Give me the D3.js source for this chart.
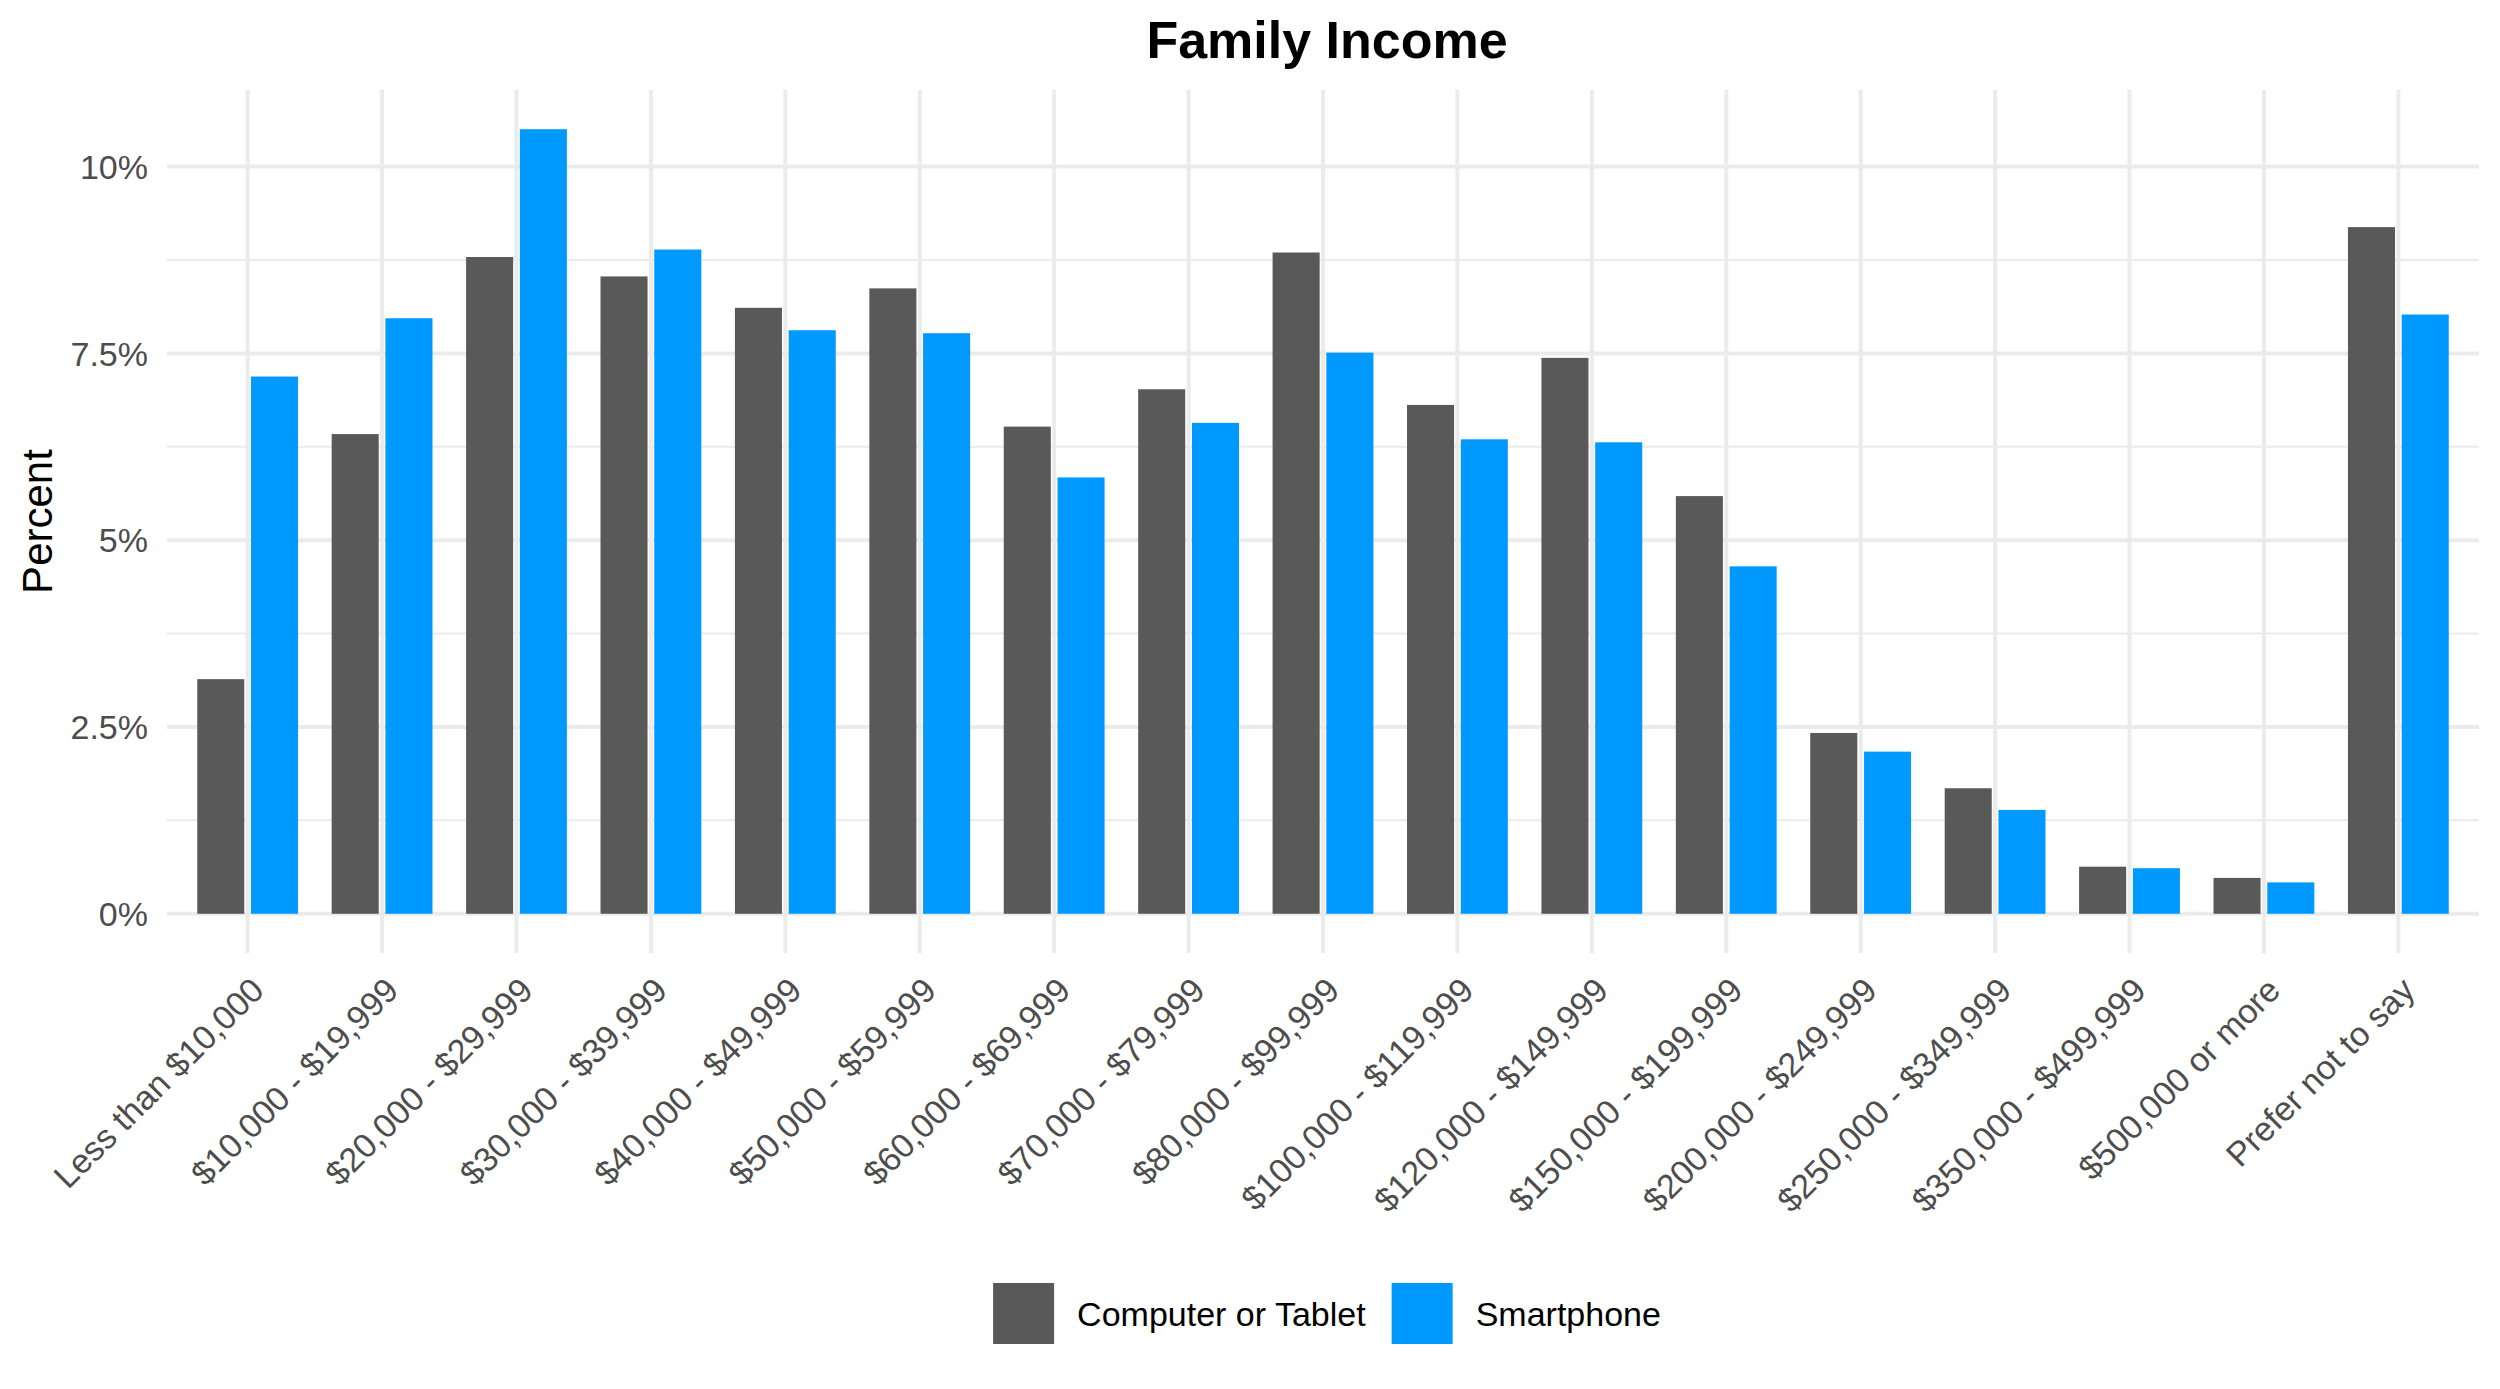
<!DOCTYPE html>
<html>
<head>
<meta charset="utf-8">
<script src="https://cdn.jsdelivr.net/npm/d3@7.9.0/dist/d3.min.js"></script>
<style>
  body { margin: 0; background: #fff; }
  svg { display: block; font-family: "Liberation Sans", Arial, Helvetica, sans-serif; }
</style>
</head>
<body>
<svg id="chart" width="2500" height="1389"></svg>
<script>
// data (percent)
const categories = [
  'Less than $10,000', '$10,000 - $19,999', '$20,000 - $29,999', '$30,000 - $39,999',
  '$40,000 - $49,999', '$50,000 - $59,999', '$60,000 - $69,999', '$70,000 - $79,999',
  '$80,000 - $99,999', '$100,000 - $119,999', '$120,000 - $149,999', '$150,000 - $199,999',
  '$200,000 - $249,999', '$250,000 - $349,999', '$350,000 - $499,999', '$500,000 or more',
  'Prefer not to say'
];
const seriesNames = ['Computer or Tablet', 'Smartphone'];
const computerValues = [3.14, 6.42, 8.79, 8.53, 8.11, 8.37, 6.52, 7.02, 8.85, 6.81, 7.44, 5.59, 2.42, 1.68, 0.63, 0.48, 9.19];
const smartphoneValues = [7.19, 7.97, 10.5, 8.89, 7.81, 7.77, 5.84, 6.57, 7.51, 6.35, 6.31, 4.65, 2.17, 1.39, 0.61, 0.42, 8.02];
const yTicks = [0, 2.5, 5, 7.5, 10];
const yMinor = [1.25, 3.75, 6.25, 8.75];

const colors = d3.scaleOrdinal().domain(seriesNames).range(['#595959', '#0099FF']);

const svg = d3.select('#chart');
const panel = { left: 167, right: 2479, top: 90, bottom: 953 };
const fontSize = 34;

const x = d3.scaleBand()
  .domain(categories)
  .range([panel.left, panel.right])
  .paddingInner(0)
  .paddingOuter(0.1);

const xInner = d3.scaleBand()
  .domain(seriesNames)
  .range([x.step() * 0.125, x.step() * 0.875])
  .paddingInner(0.125);

const yMax = d3.max([...computerValues, ...smartphoneValues]);
const y = d3.scaleLinear()
  .domain([-yMax * 0.05, yMax * 1.05])
  .range([panel.bottom, panel.top]);

// grid
const grid = svg.append('g');
grid.selectAll('.minor').data(yMinor).join('line')
  .attr('x1', panel.left).attr('x2', panel.right)
  .attr('y1', d => y(d)).attr('y2', d => y(d))
  .attr('stroke', '#EBEBEB').attr('stroke-width', 2);
grid.selectAll('.major').data(yTicks).join('line')
  .attr('x1', panel.left).attr('x2', panel.right)
  .attr('y1', d => y(d)).attr('y2', d => y(d))
  .attr('stroke', '#EBEBEB').attr('stroke-width', 4);
grid.selectAll('.vert').data(categories).join('line')
  .attr('x1', d => x(d) + x.step() / 2).attr('x2', d => x(d) + x.step() / 2)
  .attr('y1', panel.top).attr('y2', panel.bottom)
  .attr('stroke', '#EBEBEB').attr('stroke-width', 4);

// bars
const rows = categories.map((c, i) => ({
  category: c,
  values: [
    { series: seriesNames[0], value: computerValues[i] },
    { series: seriesNames[1], value: smartphoneValues[i] }
  ]
}));

svg.append('g').selectAll('g').data(rows).join('g')
  .attr('transform', d => `translate(${x(d.category)},0)`)
  .selectAll('rect').data(d => d.values).join('rect')
  .attr('x', d => xInner(d.series))
  .attr('width', xInner.bandwidth())
  .attr('y', d => y(d.value))
  .attr('height', d => y(0) - y(d.value))
  .attr('fill', d => colors(d.series));

// y axis labels
svg.append('g').selectAll('text').data(yTicks).join('text')
  .attr('x', 148)
  .attr('y', d => y(d))
  .attr('dy', '0.36em')
  .attr('text-anchor', 'end')
  .attr('font-size', fontSize)
  .attr('fill', '#4D4D4D')
  .text(d => d + '%');

// x axis labels
svg.append('g').selectAll('text').data(categories).join('text')
  .attr('transform', d => `translate(${x(d) + x.step() / 2 + 1},975) rotate(-45)`)
  .attr('dy', '0.72em')
  .attr('text-anchor', 'end')
  .attr('font-size', fontSize)
  .attr('fill', '#4D4D4D')
  .text(d => d);

// axis title
svg.append('text')
  .attr('transform', `translate(52,${(panel.top + panel.bottom) / 2}) rotate(-90)`)
  .attr('text-anchor', 'middle')
  .attr('font-size', 42)
  .attr('fill', '#000')
  .text('Percent');

// title
const centerX = (panel.left + panel.right) / 2 + 4;
svg.append('text')
  .attr('x', centerX)
  .attr('y', 58)
  .attr('text-anchor', 'middle')
  .attr('font-size', 52)
  .attr('font-weight', 'bold')
  .attr('fill', '#000')
  .text('Family Income');

// legend
const legend = svg.append('g');
const keySize = 61;
let lx = 0;
seriesNames.forEach(name => {
  const item = legend.append('g').attr('transform', `translate(${lx},0)`);
  item.append('rect')
    .attr('x', 0).attr('y', 1283)
    .attr('width', keySize).attr('height', keySize)
    .attr('fill', colors(name));
  const t = item.append('text')
    .attr('x', keySize + 23)
    .attr('y', 1314)
    .attr('dy', '0.36em')
    .attr('font-size', fontSize)
    .attr('fill', '#000')
    .text(name);
  lx += keySize + 23 + t.node().getComputedTextLength() + 26;
});
const legendWidth = lx - 26;
legend.attr('transform', `translate(${centerX - legendWidth / 2},0)`);
</script>
</body>
</html>
